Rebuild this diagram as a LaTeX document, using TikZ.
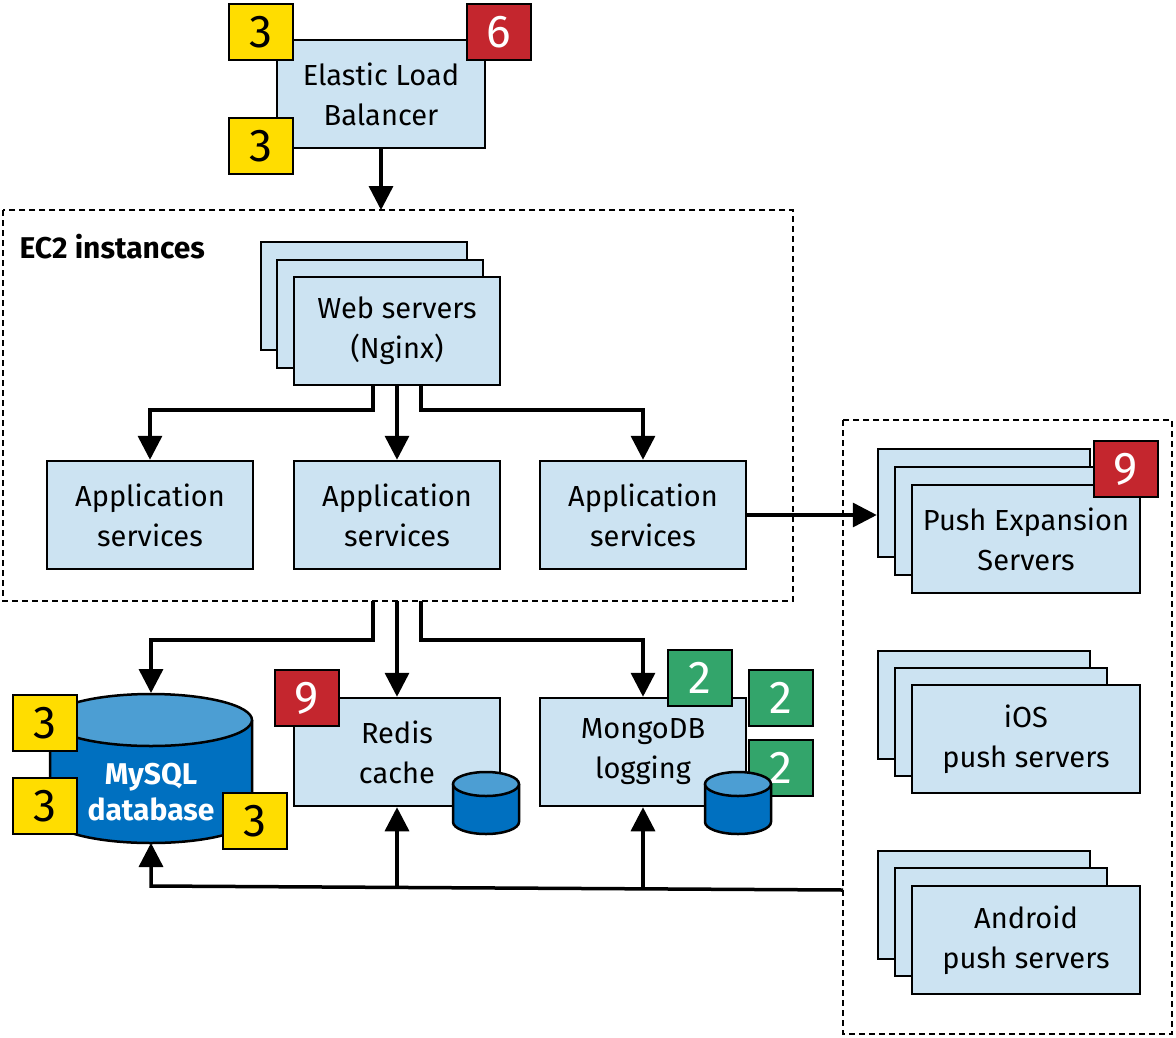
\documentclass[tikz,border=0pt]{standalone}
\usepackage{fontspec}
\setmainfont{Fira Sans}
\usetikzlibrary{arrows.meta}
\definecolor{boxblue}{HTML}{CCE3F2}
\definecolor{dbblue}{HTML}{0070C0}
\definecolor{dbtop}{HTML}{4C9ED3}
\definecolor{badgeyellow}{HTML}{FFDD00}
\definecolor{badgered}{HTML}{C4262E}
\definecolor{badgegreen}{HTML}{33A56B}
\tikzset{
  box/.style={draw,fill=boxblue,line width=2.5pt,minimum width=206pt,minimum height=108pt,align=center,
    font=\fontsize{29}{40}\selectfont,inner sep=0pt},
  badge/.style={draw,line width=2.5pt,minimum width=64pt,minimum height=56pt,inner sep=0pt,
    font=\fontsize{46}{46}\selectfont},
  ybadge/.style={badge,fill=badgeyellow},
  rbadge/.style={badge,fill=badgered,text=white},
  gbadge/.style={badge,fill=badgegreen,text=white},
  conn/.style={line width=3.5pt,-{Triangle[length=24pt,width=24pt]}},
  group/.style={draw,line width=2.5pt,dash pattern=on 6pt off 4pt}
}
\newcommand{\smalldb}[2]{% center x, top y
  \draw[line width=2.5pt,fill=dbblue] (#1-33,#2) -- (#1-33,#2+38) arc[start angle=180,end angle=0,x radius=33,y radius=12] -- (#1+33,#2);
  \draw[line width=2.5pt,fill=dbtop] (#1,#2) ellipse[x radius=33,y radius=12];
}
\begin{document}
\begin{tikzpicture}[x=1pt,y=-1pt]
\useasboundingbox (0,0) rectangle (1176,1037);
% load balancer
\node[box,minimum width=208pt] (elb) at (381,94) {Elastic Load\\Balancer};
\node[ybadge] (b3a) at (261,32) {3};
\node[ybadge] (b3b) at (261,146) {3};
\node[rbadge] (b6) at (499,32) {6};
% EC2 group
\draw[group] (3,210) rectangle (793,601);
\coordinate (ec2top) at (381,210);
\node[font=\fontsize{30}{30}\selectfont\bfseries,anchor=west] (ec2) at (16,247) {EC2 instances};
\draw[conn] (elb) -- (ec2top);
\node[box] (web3) at (364,296) {};
\node[box] (web2) at (380,314) {};
\node[box] (web) at (397,331) {Web servers\\(Nginx)};
\node[box] (app1) at (150,515) {Application\\services};
\node[box] (app2) at (397,515) {Application\\services};
\node[box] (app3) at (643,515) {Application\\services};
\draw[conn] ([xshift=-24pt]web.south) |- (150,410) -- (app1.north);
\draw[conn] (web.south) -- (app2.north);
\draw[conn] ([xshift=24pt]web.south) |- (643,410) -- (app3.north);
% push group
\draw[group] (843,420) rectangle (1172,1034);
\node[box,minimum width=212pt] (push3) at (984,503) {};
\node[box,minimum width=212pt] (push2) at (1001,521) {};
\node[box,minimum width=228pt] (push) at (1026,539) {Push Expansion\\Servers};
\node[rbadge] (b9a) at (1126,469) {9};
\draw[conn] (app3.east) -- (app3.east -| push3.west);
\node[box,minimum width=212pt] (ios3) at (984,705) {};
\node[box,minimum width=212pt] (ios2) at (1001,722) {};
\node[box,minimum width=228pt] (ios) at (1026,739) {iOS\\push servers};
\node[box,minimum width=212pt] (and3) at (984,905) {};
\node[box,minimum width=212pt] (and2) at (1001,922) {};
\node[box,minimum width=228pt] (and) at (1026,940) {Android\\push servers};
% data stores
\draw[line width=2.5pt,fill=dbblue] (50,720) -- (50,817) arc[start angle=180,end angle=0,x radius=101,y radius=26] -- (252,720);
\draw[line width=2.5pt,fill=dbtop] (151,720) ellipse[x radius=101,y radius=26];
\node[text=white,font=\fontsize{30}{36}\selectfont\bfseries,align=center] (mysql) at (151,792) {MySQL\\database};
\coordinate (mysqltop) at (151,693);
\coordinate (mysqlbot) at (151,843);
\node[ybadge] (b3c) at (45,723) {3};
\node[ybadge] (b3d) at (45,806) {3};
\node[ybadge] (b3e) at (255,821) {3};
\node[box] (redis) at (397,752) {Redis\\cache};
\node[rbadge] (b9b) at (307,698) {9};
\smalldb{486}{784}
\node[box] (mongo) at (643,752) {MongoDB\\logging};
\node[gbadge] (b2a) at (700,678) {2};
\node[gbadge] (b2b) at (781,698) {2};
\node[gbadge] (b2c) at (781,768) {2};
\smalldb{738}{784}
\coordinate (ec2bot) at (397,601);
\draw[conn] ([xshift=-24pt]ec2bot) |- (151,640) -- (mysqltop);
\draw[conn] (ec2bot) -- (redis.north);
\draw[conn] ([xshift=24pt]ec2bot) |- (643,640) -- (mongo.north);
% return path
\coordinate (pushin) at (843,890);
\draw[conn] (pushin) -- (151,886) -- (mysqlbot);
\draw[conn] (397,888) -- (redis.south);
\draw[conn] (643,889) -- (mongo.south);
\end{tikzpicture}
\end{document}
